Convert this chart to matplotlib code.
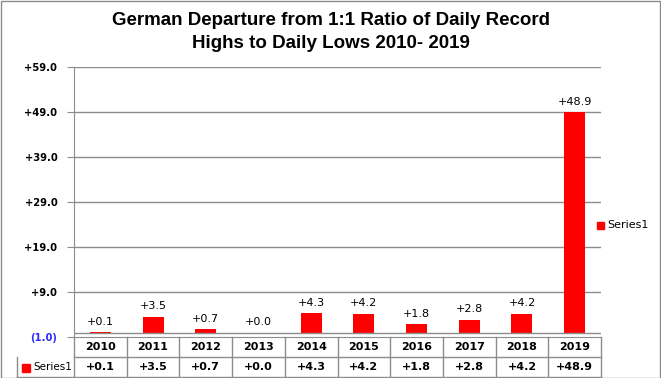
import matplotlib
matplotlib.use('Agg')
import matplotlib.pyplot as plt
from matplotlib.patches import Rectangle

years = ['2010', '2011', '2012', '2013', '2014', '2015', '2016', '2017', '2018', '2019']
values = [0.1, 3.5, 0.7, 0.0, 4.3, 4.2, 1.8, 2.8, 4.2, 48.9]
yticks = [-1, 9, 19, 29, 39, 49, 59]
series_name = 'Series1'
title = 'German Departure from 1:1 Ratio of Daily Record\nHighs to Daily Lows 2010- 2019'

plt.rcParams['font.family'] = 'DejaVu Sans'
W, H = 661, 378
fig = plt.figure(figsize=(W / 100, H / 100), dpi=100)
L, R, T, B = 74, 601, 67, 337
ax = fig.add_axes([L / W, 1 - B / H, (R - L) / W, (B - T) / H])

grid = '#8c8c8c'
x = list(range(len(years)))
ax.bar(x, values, width=0.4, color='#ff0000', zorder=3)
for xi, v in zip(x, values):
    ax.text(xi, v + 1.2, f'+{v:.1f}', ha='center', va='bottom', fontsize=8)

ax.set_xlim(-0.5, len(years) - 0.5)
ax.set_ylim(-1, 59)
ax.set_yticks(yticks)
ax.set_yticklabels([f'({abs(t):.1f})' if t < 0 else f'+{t:.1f}' for t in yticks],
                   fontsize=7.2, fontweight='bold')
ax.get_yticklabels()[0].set_color('#2b2bff')
ax.tick_params(axis='y', length=5, color=grid, pad=7)
ax.set_xticks([])
for yt in yticks[1:]:
    ax.axhline(yt, color=grid, lw=1, zorder=1)
ax.axhline(0, color=grid, lw=1, zorder=4)
for s in ['top', 'right']:
    ax.spines[s].set_visible(False)
ax.spines['left'].set_color(grid)
ax.spines['bottom'].set_color(grid)

# data table under the plot
tr = ax.get_xaxis_transform()
rh = 20 / (B - T)
col0 = -0.5 - (L - 17) / (R - L) * len(years)
kw = dict(color=grid, lw=1, transform=tr, clip_on=False)
ax.plot([-0.5, 9.5], [-rh, -rh], **kw)
ax.plot([col0, 9.5], [-2 * rh, -2 * rh], **kw)
ax.plot([col0, col0], [-rh, -2 * rh], **kw)
for i in range(len(years) + 1):
    ax.plot([i - 0.5, i - 0.5], [0, -2 * rh], **kw)
for xi, yr, v in zip(x, years, values):
    ax.text(xi, -rh / 2, yr, ha='center', va='center', fontsize=8,
            fontweight='bold', transform=tr)
    ax.text(xi, -1.5 * rh, f'+{v:.1f}', ha='center', va='center', fontsize=8,
            fontweight='bold', transform=tr)
fig.patches.append(Rectangle((22 / W, 1 - 372 / H), 8 / W, 8 / H, color='#ff0000',
                             transform=fig.transFigure))
fig.text(33 / W, 1 - 367 / H, series_name, fontsize=7.5, va='center')

# legend on the right
fig.patches.append(Rectangle((597 / W, 1 - 229 / H), 7 / W, 7 / H, color='#ff0000',
                             transform=fig.transFigure))
fig.text(607 / W, 1 - 225.5 / H, series_name, fontsize=8, va='center')

fig.text(0.5, 1 - 32 / H, title, ha='center', va='center', fontsize=13.5,
         fontweight='bold', family='Liberation Sans', linespacing=1.5)
fig.patches.append(Rectangle((0.5 / W, 0.5 / H), (W - 1.5) / W, (H - 1.5) / H, fill=False,
                             edgecolor=grid, lw=1, transform=fig.transFigure))
fig.savefig('out.png', dpi=100)
